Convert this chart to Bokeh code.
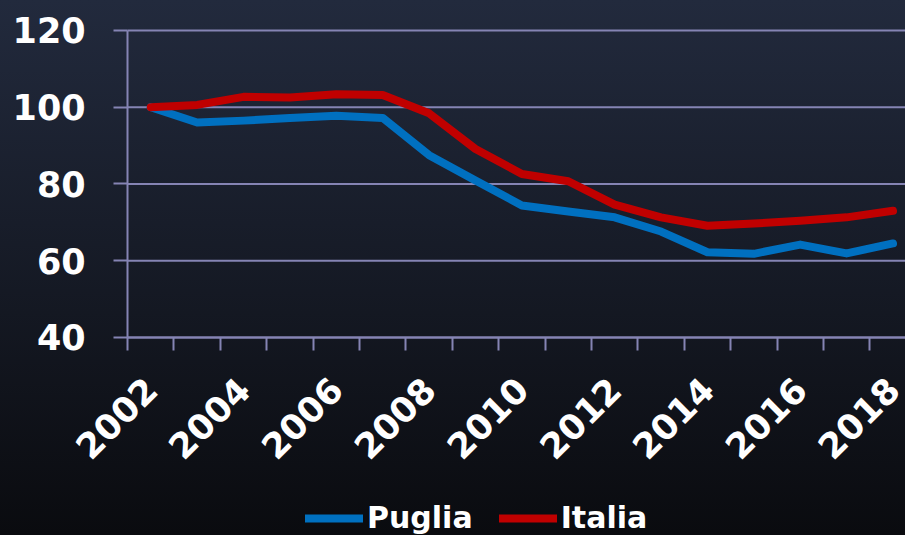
import math
from bokeh.plotting import figure
from bokeh.models import FixedTicker, Legend, LegendItem, Range1d
from bokeh.embed import file_html
from bokeh.resources import INLINE

years = list(range(2002, 2019))
puglia = [100, 96.0, 96.5, 97.2, 97.8, 97.2, 87.5, 80.9, 74.4, 72.8, 71.3, 67.6, 62.2, 61.8, 64.2, 61.9, 64.5]
italia = [100, 100.6, 102.7, 102.5, 103.4, 103.2, 98.4, 89.1, 82.6, 80.7, 74.6, 71.3, 69.1, 69.7, 70.4, 71.3, 73.0]
y_ticks = [40, 60, 80, 100, 120]
x_label_years = [2002, 2004, 2006, 2008, 2010, 2012, 2014, 2016, 2018]
series_names = ["Puglia", "Italia"]
series_colors = ["#0070c0", "#c00000"]

FONT = "DejaVu Sans"
GRID = "#8584b4"

# category boundaries (each year is a category one unit wide)
x_first_edge = years[0] - 0.5
x_last_edge = years[-1] + 0.5
edges = [y - 0.5 for y in years] + [x_last_edge]

# the frame fills the whole page; both axes are drawn at fixed positions inside it
p = figure(width=905, height=535, output_backend="svg", toolbar_location=None,
           x_range=Range1d(1998.76, 2018.27), y_range=Range1d(-11.6, 127.8),
           min_border_left=0, min_border_top=0, min_border_right=0, min_border_bottom=0)
p.background_fill_alpha = 0
p.border_fill_alpha = 0
p.outline_line_alpha = 0
p.xgrid.grid_line_color = None
p.ygrid.grid_line_color = None

# horizontal gridlines across the category axis
p.segment(x0=[x_first_edge] * len(y_ticks), y0=y_ticks,
          x1=[x_last_edge] * len(y_ticks), y1=y_ticks,
          line_color=GRID, line_width=2)

r1 = p.line(years, puglia, line_color=series_colors[0], line_width=8, line_cap="round", line_join="round")
r2 = p.line(years, italia, line_color=series_colors[1], line_width=8, line_cap="round", line_join="round")

# y axis
p.yaxis.fixed_location = x_first_edge
p.yaxis.bounds = (y_ticks[0], y_ticks[-1])
p.yaxis.ticker = FixedTicker(ticks=y_ticks)
p.yaxis.axis_line_color = GRID
p.yaxis.axis_line_width = 2
p.yaxis.major_tick_line_color = GRID
p.yaxis.major_tick_line_width = 2
p.yaxis.major_tick_out = 14
p.yaxis.major_tick_in = 0
p.yaxis.minor_tick_line_color = None
p.yaxis.major_label_text_font = FONT
p.yaxis.major_label_text_font_style = "bold"
p.yaxis.major_label_text_font_size = "35px"
p.yaxis.major_label_text_color = "white"
p.yaxis.major_label_standoff = 28

# x axis, drawn at the value 40
p.xaxis.fixed_location = y_ticks[0]
p.xaxis.bounds = (x_first_edge, x_last_edge)
p.xaxis.ticker = FixedTicker(ticks=x_label_years, minor_ticks=edges)
p.xaxis.axis_line_color = GRID
p.xaxis.axis_line_width = 2
p.xaxis.major_tick_line_color = None
p.xaxis.major_tick_out = 0
p.xaxis.major_tick_in = 0
p.xaxis.minor_tick_line_color = GRID
p.xaxis.minor_tick_line_width = 2
p.xaxis.minor_tick_out = 13
p.xaxis.minor_tick_in = 0
p.xaxis.major_label_orientation = math.pi / 4
p.xaxis.major_label_text_font = FONT
p.xaxis.major_label_text_font_style = "bold"
p.xaxis.major_label_text_font_size = "35px"
p.xaxis.major_label_text_color = "white"
p.xaxis.major_label_standoff = 33

legend = Legend(items=[LegendItem(label=series_names[0], renderers=[r1]),
                       LegendItem(label=series_names[1], renderers=[r2])],
                orientation="horizontal", location=(305, 0))
legend.glyph_width = 58
legend.glyph_height = 20
legend.label_standoff = 4
legend.spacing = 26
legend.padding = 0
legend.margin = 0
legend.border_line_alpha = 0
legend.background_fill_alpha = 0
legend.label_text_font = FONT
legend.label_text_font_style = "bold"
legend.label_text_font_size = "30px"
legend.label_text_color = "white"
p.add_layout(legend, "center")

html = file_html(p, INLINE)
bg_css = "<style>html,body{background:linear-gradient(to bottom,#222a3d,#0a0b0f) !important;}</style>"
html = html.replace("</head>", bg_css + "</head>", 1)
open("out.html", "w").write(html)
